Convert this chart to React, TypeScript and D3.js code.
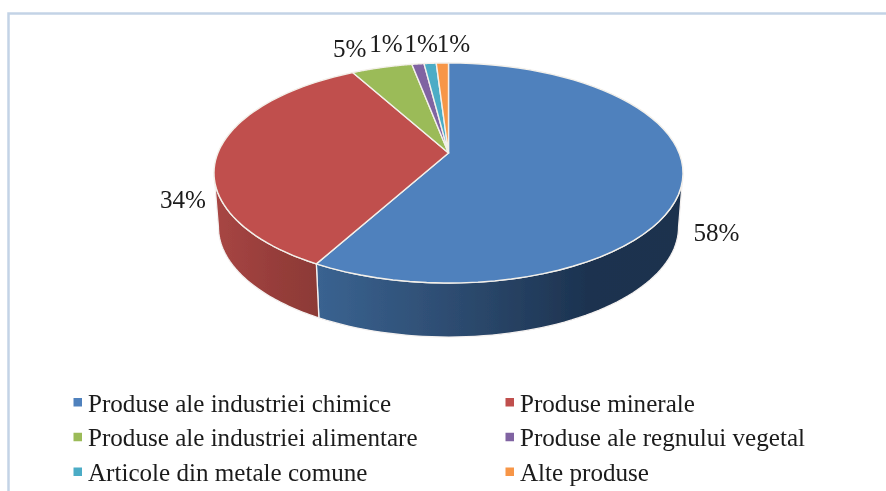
import React from 'react';
import * as d3 from 'd3';

const categories = [
  'Produse ale industriei chimice',
  'Produse minerale',
  'Produse ale industriei alimentare',
  'Produse ale regnului vegetal',
  'Articole din metale comune',
  'Alte produse',
];
const shares = [58, 34, 5, 1, 1, 1];
const colors = ['#4f81bd', '#c0504d', '#9bbb59', '#8064a2', '#4bacc6', '#f79646'];
// label position relative to the slice's mid point on the rim
const labelOffsets = [[34, 60], [-35, 55], [-32, -10.5], [-32, -12], [-9, -11], [11, -11]];

const width = 886;
const height = 491;
const serif = '"Liberation Serif", "Times New Roman", serif';
const fontSize = 25.1;

// tilted disc: a circle seen in perspective, so the apex sits above the ellipse centre
const apex = { x: 448.5, y: 153 };
const persp = -0.1818;
const radiusX = 230.6;
const radiusY = 106.4;
const depth = 54;
const bottomScale = 0.981; // lower rim is further away, so a bit narrower

const project = (a: number): [number, number] => {
  const u = Math.sin(a);
  const v = -Math.cos(a);
  const w = 1 + persp * v;
  return [apex.x + (radiusX * u) / w, apex.y + (radiusY * v) / w];
};

const rim = (a0: number, a1: number) => d3.range(0, 61).map(i => project(a0 + ((a1 - a0) * i) / 60));

const line = d3.line();

const legendX = d3.scaleOrdinal<number, number>().domain([0, 1]).range([73.5, 505.5]);
const legendY = d3.scaleLinear().domain([0, 2]).range([403, 472.5]);

export default function App() {
  const arcs = d3.pie<number>().sort(null).value(d => d)(shares);

  // the wall shows only on the near half of the rim
  const wallStart = Math.acos(persp);
  const wallEnd = 2 * Math.PI - wallStart;

  const walls = arcs
    .map((d, i) => ({ i, a0: Math.max(d.startAngle, wallStart), a1: Math.min(d.endAngle, wallEnd) }))
    .filter(d => d.a1 > d.a0);

  return (
    <svg
      width={width}
      height={height}
      viewBox={`0 0 ${width} ${height}`}
      style={{ position: 'fixed', left: 0, top: 0, display: 'block', background: '#fff' }}
    >
      <defs>
        <filter id="soft" x="-5%" y="-5%" width="110%" height="110%">
          <feGaussianBlur stdDeviation="0.45" />
        </filter>
        <linearGradient id="wall-0" gradientUnits="userSpaceOnUse" x1="316" x2="683" y1="0" y2="0">
          <stop offset="0" stopColor="#3a6391" />
          <stop offset="0.4" stopColor="#2c4a6e" />
          <stop offset="0.75" stopColor="#1c324f" />
          <stop offset="1" stopColor="#1d334e" />
        </linearGradient>
        <linearGradient id="wall-1" gradientUnits="userSpaceOnUse" x1="214" x2="318" y1="0" y2="0">
          <stop offset="0" stopColor="#a84644" />
          <stop offset="0.6" stopColor="#963d3a" />
          <stop offset="1" stopColor="#8c3a36" />
        </linearGradient>
      </defs>

      <g filter="url(#soft)">
        <path d="M886,13.5H8.5V491" fill="none" stroke="#c3d3e6" strokeWidth={2.5} />

        {walls.map(w => {
          const top = rim(w.a0, w.a1);
          const bottom = top
            .map(([x, y]) => [apex.x + (x - apex.x) * bottomScale, y + depth] as [number, number])
            .reverse();
          return (
            <path
              key={w.i}
              d={`${line([...top, ...bottom])}Z`}
              fill={`url(#wall-${w.i})`}
              stroke="#f4f1f0"
              strokeWidth={1.3}
            />
          );
        })}

        {arcs.map((d, i) => (
          <path
            key={categories[i]}
            d={`${line([[apex.x, apex.y], ...rim(d.startAngle, d.endAngle)])}Z`}
            fill={colors[i]}
            stroke="#f3f0ea"
            strokeWidth={1.4}
            strokeLinejoin="round"
          />
        ))}

        {arcs.map((d, i) => {
          const [x, y] = project((d.startAngle + d.endAngle) / 2);
          return (
            <text
              key={i}
              x={x + labelOffsets[i][0]}
              y={y + labelOffsets[i][1]}
              textAnchor="middle"
              fontFamily={serif}
              fontSize={fontSize}
              fill="#1a1a1a"
            >
              {`${shares[i]}%`}
            </text>
          );
        })}

        {categories.map((c, i) => {
          const lx = legendX(i % 2);
          const ly = legendY(Math.floor(i / 2));
          return (
            <g key={c}>
              <rect x={lx} y={ly - 5} width={8.5} height={8.5} fill={colors[i]} />
              <text x={lx + 14.5} y={ly + 8.5} fontFamily={serif} fontSize={fontSize} fill="#1a1a1a">
                {c}
              </text>
            </g>
          );
        })}
      </g>
    </svg>
  );
}
